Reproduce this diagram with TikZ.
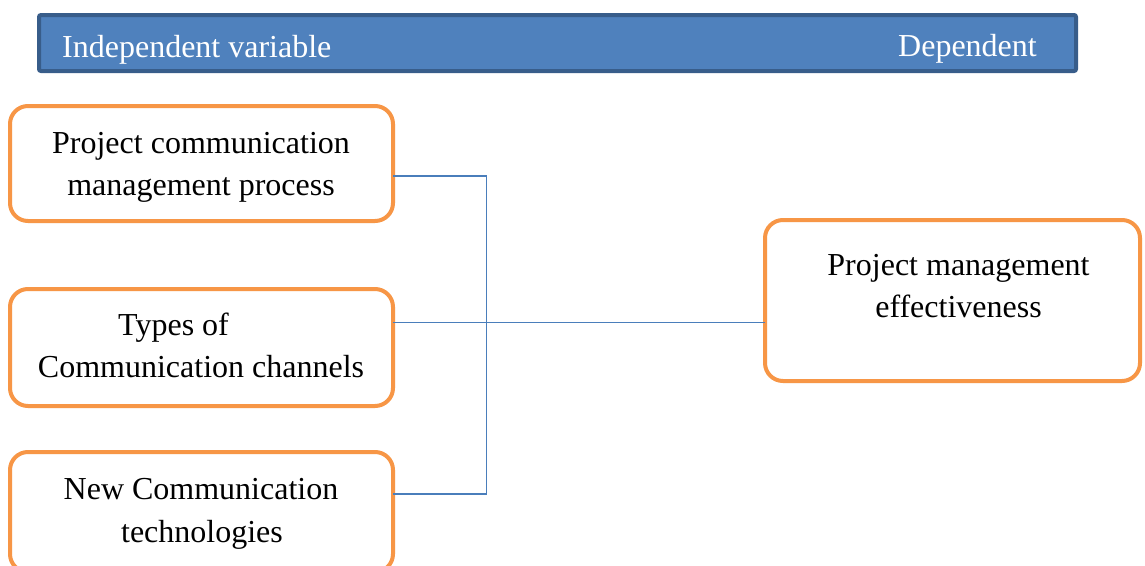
\documentclass[tikz,border=0pt]{standalone}
\usepackage{fontspec}
\setmainfont{Liberation Serif}
\definecolor{hdrfill}{HTML}{4F81BD}
\definecolor{hdrdraw}{HTML}{385D8A}
\definecolor{boxorange}{HTML}{F79646}
\definecolor{linkblue}{HTML}{4A7EBB}
\tikzset{
  varbox/.style={draw=boxorange, line width=4pt, fill=white, rounded corners=18pt,
    rectangle, inner sep=0pt, outer sep=0pt},
  txt/.style={font=\fontsize{32}{38}\selectfont, inner sep=0pt, anchor=base, text=black},
  hdrtxt/.style={font=\fontsize{32}{38}\selectfont, inner sep=0pt, anchor=base west, text=white},
  link/.style={draw=linkblue, line width=1.6pt}
}
\begin{document}
\begin{tikzpicture}[x=1pt,y=-1pt]
\useasboundingbox (0,0) rectangle (1145,565);
\clip (0,0) rectangle (1145,565);
\fill[white] (0,0) rectangle (1145,565);
% header bar
\node[rectangle, draw=hdrdraw, fill=hdrfill, line width=4pt, rounded corners=2pt,
      minimum width=1037pt, minimum height=56pt, inner sep=0pt] (hdr) at (557.5,43) {};
\node[hdrtxt] (hind) at (62,57) {Independent variable};
\node[hdrtxt] (hdep) at (898,56) {Dependent};
% boxes
\node[varbox, minimum width=383pt, minimum height=115pt] (b1) at (201.5,163.5) {};
\node[varbox, minimum width=383pt, minimum height=117pt] (b2) at (201.5,347.5) {};
\node[varbox, minimum width=383pt, minimum height=120pt] (b3) at (201.5,512) {};
\node[varbox, minimum width=375pt, minimum height=161pt] (r) at (952.5,300.5) {};
% texts
\node[txt] (t1a) at (201,153) {Project communication};
\node[txt] (t1b) at (201,195) {management process};
\node[txt, anchor=base west] (t2a) at (118,335) {Types of};
\node[txt] (t2b) at (201,377) {Communication channels};
\node[txt] (t3a) at (201,499) {New Communication};
\node[txt] (t3b) at (202,542) {technologies};
\node[txt] (tra) at (958.5,275) {Project management};
\node[txt] (trb) at (958.5,317) {effectiveness};
% connectors
\coordinate (jtop) at (486.5,176);
\coordinate (jmid) at (486.5,322.5);
\coordinate (jbot) at (486.5,494);
\draw[link] (b1.east |- jtop) -- (jtop) -- (jbot) -- (b3.east |- jbot);
\draw[link] (b2.east |- jmid) -- (r.west |- jmid);
\end{tikzpicture}
\end{document}
